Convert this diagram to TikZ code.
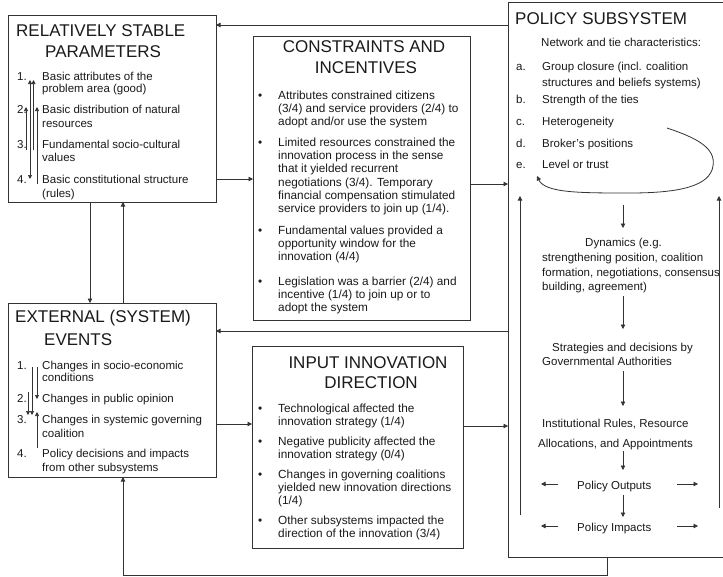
\documentclass[tikz,border=0pt]{standalone}
\usepackage{fontspec}
\setmainfont{Liberation Sans}
\usetikzlibrary{arrows.meta}
\definecolor{linec}{HTML}{333333}
\definecolor{txtc}{HTML}{1A1A1A}
% one line of body text: name, x, baseline y, text
\newcommand{\txtline}[4]{\node[txt] (#1) at (#2,#3) {#4};}
\begin{document}
\begin{tikzpicture}[x=1pt,y=-1pt,
  box/.style={draw=linec, line width=0.8pt, inner sep=0pt, outer sep=0pt, rectangle},
  ttl/.style={font=\fontsize{17}{20}\selectfont, inner sep=0pt, text=txtc},
  txt/.style={font=\fontsize{11.5}{13}\selectfont, anchor=base west, inner sep=0pt, text=txtc},
  wide/.style={txt/.append style={font=\fontsize{11.8}{13}\selectfont}},
  arr/.style={draw=linec, line width=0.8pt, -{Triangle[length=4.5pt,width=4.5pt]}},
  sarr/.style={draw=linec, line width=0.7pt, -{Triangle[length=4pt,width=4pt]}},
  ln/.style={draw=linec, line width=0.8pt}]
\useasboundingbox (0,0) rectangle (723,576);
\fill[white] (0,0) rectangle (723,576);
\clip (0,0) rectangle (723,576);

% ---------- boxes ----------
\node[box, minimum width=208pt, minimum height=187pt] (rsp) at (112,108.5) {};
\node[box, minimum width=217pt, minimum height=284pt] (con) at (361.5,178) {};
\node[box, minimum width=208pt, minimum height=174pt] (ext) at (112,390) {};
\node[box, minimum width=211pt, minimum height=202pt] (inp) at (357.5,447) {};
\node[box, minimum width=222pt, minimum height=555pt] (pol) at (619,279.5) {};

% ---------- connectors between boxes ----------
\draw[arr] (pol.west |- 0,25) -- (rsp.east |- 0,25);
\draw[arr] (rsp.east |- 0,179) -- (con.west |- 0,179);
\draw[arr] (con.east |- 0,184) -- (pol.west |- 0,184);
\draw[arr] (pol.west |- 0,331) -- (ext.east |- 0,331);
\draw[arr] (ext.east |- 0,424) -- (inp.west |- 0,424);
\draw[arr] (inp.east |- 0,426) -- (pol.west |- 0,426);
\draw[arr] (rsp.south -| 90,0) -- (ext.north -| 90,0);
\draw[arr] (ext.north -| 123,0) -- (rsp.south -| 123,0);
\draw[arr] (pol.south -| 607,0) |- (123,575) -- (ext.south -| 123,0);

% ---------- relatively stable parameters ----------
\node[ttl, anchor=base west] (rspt1) at (16,36) {RELATIVELY STABLE};
\node[ttl, anchor=base west] (rspt2) at (45,57) {PARAMETERS};
\txtline{r1n}{17}{80}{1.}
\txtline{r1a}{42}{80}{Basic attributes of the}
\txtline{r1b}{42}{92}{problem area (good)}
\txtline{r2n}{17}{113}{2.}
\txtline{r2a}{42}{113}{Basic distribution of natural}
\txtline{r2b}{42}{127}{resources}
\txtline{r3n}{17}{148}{3.}
\txtline{r3a}{42}{148}{Fundamental socio-cultural}
\txtline{r3b}{42}{161}{values}
\txtline{r4n}{17}{183}{4.}
\txtline{r4a}{42}{183}{Basic constitutional structure}
\txtline{r4b}{42}{197}{(rules)}
\draw[sarr] (26,150) -- (26,107);
\draw[sarr, {Triangle[length=4pt,width=4pt]}-{Triangle[length=4pt,width=4pt]}] (30,80) -- (30,179);
\draw[sarr] (33.5,150) -- (33.5,80);
\draw[sarr] (37,184) -- (37,107);

% ---------- external (system) events ----------
\node[ttl, anchor=base west] (extt1) at (15,322) {EXTERNAL (SYSTEM)};
\node[ttl, anchor=base west] (extt2) at (44,345) {EVENTS};
\txtline{e1n}{17}{369}{1.}
\txtline{e1a}{42}{369}{Changes in socio-economic}
\txtline{e1b}{42}{381}{conditions}
\txtline{e2n}{17}{402}{2.}
\txtline{e2a}{42}{402}{Changes in public opinion}
\txtline{e3n}{17}{423}{3.}
\txtline{e3a}{42}{423}{Changes in systemic governing}
\txtline{e3b}{42}{437}{coalition}
\txtline{e4n}{17}{457}{4.}
\txtline{e4a}{42}{457}{Policy decisions and impacts}
\txtline{e4b}{42}{471}{from other subsystems}
\draw[sarr] (28,392) -- (28,415);
\draw[sarr] (32,367) -- (32,415);
\draw[sarr] (37,367) -- (37,399);
\draw[sarr] (37,448) -- (37,412);

% ---------- constraints and incentives ----------
\begin{scope}[wide]
\node[ttl, anchor=base] (cont1) at (364,52) {CONSTRAINTS AND};
\node[ttl, anchor=base] (cont2) at (366,73) {INCENTIVES};
\txtline{c1d}{258}{99}{•}
\txtline{c1a}{278}{99}{Attributes constrained citizens}
\txtline{c1b}{278}{112}{(3/4) and service providers (2/4) to}
\txtline{c1c}{278}{125}{adopt and/or use the system}
\txtline{c2d}{258}{146}{•}
\txtline{c2a}{278}{146}{Limited resources constrained the}
\txtline{c2b}{278}{159}{innovation process in the sense}
\txtline{c2c}{278}{172}{that it yielded recurrent}
\txtline{c2e}{278}{186}{negotiations (3/4). Temporary}
\txtline{c2f}{278}{199}{financial compensation stimulated}
\txtline{c2g}{278}{212}{service providers to join up (1/4).}
\txtline{c3d}{258}{234}{•}
\txtline{c3a}{278}{234}{Fundamental values provided a}
\txtline{c3b}{278}{247}{opportunity window for the}
\txtline{c3c}{278}{260}{innovation (4/4)}
\txtline{c4d}{258}{285}{•}
\txtline{c4a}{278}{285}{Legislation was a barrier (2/4) and}
\txtline{c4b}{278}{298}{incentive (1/4) to join up or to}
\txtline{c4c}{278}{311}{adopt the system}

% ---------- input innovation direction ----------
\node[ttl, anchor=base] (inpt1) at (368,368) {INPUT INNOVATION};
\node[ttl, anchor=base] (inpt2) at (371,388) {DIRECTION};
\txtline{i1d}{258}{412}{•}
\txtline{i1a}{278}{412}{Technological affected the}
\txtline{i1b}{278}{425}{innovation strategy (1/4)}
\txtline{i2d}{258}{445}{•}
\txtline{i2a}{278}{445}{Negative publicity affected the}
\txtline{i2b}{278}{458}{innovation strategy (0/4)}
\txtline{i3d}{258}{478}{•}
\txtline{i3a}{278}{478}{Changes in governing coalitions}
\txtline{i3b}{278}{491}{yielded new innovation directions}
\txtline{i3c}{278}{504}{(1/4)}
\txtline{i4d}{258}{524}{•}
\txtline{i4a}{278}{524}{Other subsystems impacted the}
\txtline{i4b}{278}{537}{direction of the innovation (3/4)}
\end{scope}

% ---------- policy subsystem ----------
\node[ttl, anchor=base west] (polt) at (515,24) {POLICY SUBSYSTEM};
\txtline{pnet}{541}{46}{Network and tie characteristics:}
\txtline{pan}{516}{70}{a.}
\txtline{pa1}{542}{70}{Group closure (incl. coalition}
\txtline{pa2}{542}{86}{structures and beliefs systems)}
\txtline{pbn}{516}{103}{b.}
\txtline{pb}{542}{103}{Strength of the ties}
\txtline{pcn}{516}{125}{c.}
\txtline{pc}{542}{125}{Heterogeneity}
\txtline{pdn}{516}{147}{d.}
\txtline{pd}{542}{147}{Broker's positions}
\txtline{pen}{516}{168}{e.}
\txtline{pe}{542}{168}{Level or trust}
% feedback loop among the network characteristics
\coordinate (loopa) at (667,128);
\coordinate (loopb) at (537,176);
\draw[arr] (loopa) .. controls (697,138) and (716,148) .. (713,166)
  .. controls (710,186) and (680,193) .. (630,193)
  .. controls (580,193) and (545,193) .. (loopb);

\txtline{dy1}{585}{246}{Dynamics (e.g.}
\txtline{dy2}{542}{261}{strengthening position, coalition}
\txtline{dy3}{542}{276}{formation, negotiations, consensus}
\txtline{dy4}{542}{290}{building, agreement)}
\txtline{st1}{552}{351}{Strategies and decisions by}
\txtline{st2}{542}{365}{Governmental Authorities}
\txtline{in1}{542}{427}{Institutional Rules, Resource}
\txtline{in2}{538}{447}{Allocations, and Appointments}
\txtline{pout}{577}{489}{Policy Outputs}
\txtline{pimp}{577}{531}{Policy Impacts}

\coordinate (f1) at (623,205);
\draw[arr] (f1) -- (623,228);
\draw[arr] (623,296) -- (623,329);
\draw[arr] (623,371) -- (623,406);
\draw[arr] (623,451) -- (623,470);
\draw[arr] (623,495) -- (623,517);
\draw[arr] (558,484) -- (541,484);
\draw[arr] (677,484) -- (698,484);
\draw[arr] (558,526) -- (541,526);
\draw[arr] (677,526) -- (698,526);
\draw[arr] (520,515) -- (520,196);
\draw[arr] (719,508) -- (719,196);
\end{tikzpicture}
\end{document}
